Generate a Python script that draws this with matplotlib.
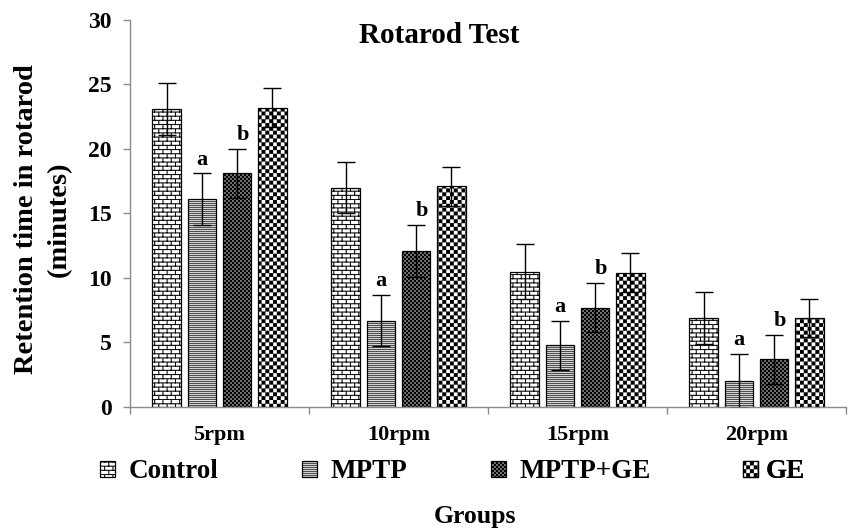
import warnings
import numpy as np
import matplotlib
matplotlib.use("Agg")
import matplotlib.pyplot as plt
from matplotlib import hatch as mhatch
from matplotlib.path import Path

warnings.filterwarnings("ignore", message=".*hatch must consist.*")

# datos
grupos = ["5rpm", "10rpm", "15rpm", "20rpm"]
series = ["Control", "MPTP", "MPTP+GE", "GE"]
control = [23.1, 17.0, 10.5, 6.9]
control_err = [2.0, 2.0, 2.1, 2.0]
mptp = [16.1, 6.7, 4.8, 2.0]
mptp_err = [2.0, 2.0, 1.9, 2.1]
mptp_ge = [18.1, 12.1, 7.7, 3.7]
mptp_ge_err = [1.9, 2.0, 1.9, 1.9]
ge = [23.2, 17.1, 10.4, 6.9]
ge_err = [1.5, 1.5, 1.5, 1.5]
letras = {"MPTP": "a", "MPTP+GE": "b"}


# --- tramas tipo Excel (ladrillo, rayas, damero) como hatch propio ---
def ladrillo(filas=24, cols=12, t=0.009):
    h, w = 1.0 / filas, 1.0 / cols
    rects = []
    for r in range(filas):
        y = r * h
        rects.append((0, y, 1, y + t))
        for c in range(cols):
            x = (c + 0.5 * (r % 2)) * w
            rects.append((x, y, x + t, y + h))
    return rects


def rayas(n=50, t=0.0055):
    return [(0, k / n, 1, k / n + t) for k in range(n)]


def damero(n):
    s = 1.0 / n
    return [(i * s, j * s, (i + 1) * s, (j + 1) * s)
            for i in range(n) for j in range(n) if (i + j) % 2 == 0]


class TramaHatch(mhatch.HatchPatternBase):
    tramas = {"b": ladrillo(), "h": rayas(), "f": damero(50), "k": damero(26)}

    def __init__(self, hatch, density):
        self.rects = []
        for ch, rects in self.tramas.items():
            if hatch and ch in hatch:
                self.rects += rects
        self.num_vertices = 5 * len(self.rects)

    def set_vertices_and_codes(self, vertices, codes):
        for i, (x0, y0, x1, y1) in enumerate(self.rects):
            vertices[5 * i:5 * i + 5] = [(x0, y0), (x1, y0), (x1, y1), (x0, y1), (x0, y0)]
            codes[5 * i:5 * i + 5] = [Path.MOVETO, Path.LINETO, Path.LINETO,
                                      Path.LINETO, Path.CLOSEPOLY]


mhatch._hatch_types.append(TramaHatch)

plt.rcParams["font.family"] = "Liberation Serif"
plt.rcParams["font.weight"] = "bold"
plt.rcParams["hatch.linewidth"] = 0.1

valores = [control, mptp, mptp_ge, ge]
errores = [control_err, mptp_err, mptp_ge_err, ge_err]
tramas = ["b", "h", "f", "k"]
fondos = ["white", "#e2e2e2", "#808080", "white"]

fig = plt.figure(figsize=(8.49, 5.30), dpi=100)
ax = fig.add_axes([0.1531, 0.2321, 0.8434, 0.7302])

x = np.arange(len(grupos))
paso = 0.197
ancho = 0.16
barras = []
for i, nombre in enumerate(series):
    pos = x + (i - 1.5) * paso
    b = ax.bar(pos, valores[i], ancho, color=fondos[i], edgecolor="black",
               linewidth=0.9, hatch=tramas[i], label=nombre, zorder=2)
    ax.errorbar(pos, valores[i], yerr=errores[i], fmt="none", ecolor="black",
                elinewidth=1.0, capsize=6.2, capthick=1.0, zorder=3)
    barras.append(b)
    if nombre in letras:
        dx = 0.03 if nombre == "MPTP+GE" else 0.0
        for xi, v, e in zip(pos, valores[i], errores[i]):
            ax.text(xi + dx, v + e + 0.3, letras[nombre], ha="center",
                    va="bottom", fontsize=16, fontweight="bold")

ax.set_xlim(-0.5, 3.5)
ax.set_ylim(0, 30)
ax.set_yticks(range(0, 31, 5))
ax.set_xticks(x)
ax.set_xticklabels(grupos)
ax.set_xticks(np.arange(-0.5, 4, 1), minor=True)
ax.tick_params(axis="x", which="major", length=0, pad=13, labelsize=16)
ax.tick_params(axis="x", which="minor", length=5, color="#8c8c8c", width=1)
ax.tick_params(axis="y", length=5, color="#8c8c8c", width=1, pad=8, labelsize=17)
for lado in ["top", "right"]:
    ax.spines[lado].set_visible(False)
for lado in ["left", "bottom"]:
    ax.spines[lado].set_color("#8c8c8c")
    ax.spines[lado].set_linewidth(1.0)

fig.text(439.5 / 849, 1 - 43 / 530, "Rotarod Test", ha="center",
         va="baseline", fontsize=21, fontweight="bold")
fig.text(43 / 849, 1 - 219.5 / 530, "Retention time in rotarod\n(minutes)",
         rotation=90, ha="center", va="center", multialignment="center",
         fontsize=20.5, fontweight="bold", linespacing=1.4)
fig.text(475 / 849, 1 - 523 / 530, "Groups", ha="center", va="baseline",
         fontsize=18.5, fontweight="bold")

# leyenda: cada entrada en su sitio, como en el original
xs_leyenda = [100, 302, 491, 743]
pads = [0.5, 0.5, 0.5, 0.3]
for b, nombre, xl, pad in zip(barras, series, xs_leyenda, pads):
    leg = ax.legend([b.patches[0]], [nombre], loc="center left",
                    bbox_to_anchor=(xl / 849, 1 - 472 / 530),
                    bbox_transform=fig.transFigure, frameon=False,
                    borderpad=0, borderaxespad=0, handlelength=0.55,
                    handleheight=0.55, handletextpad=pad,
                    prop={"size": 19.5, "weight": "bold"})
    ax.add_artist(leg)

fig.savefig("out.png", dpi=100)
